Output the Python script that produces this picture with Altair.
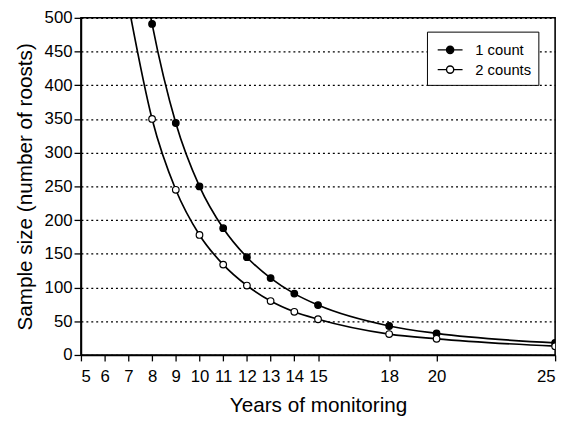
import altair as alt
import pandas as pd

# ---- data ----
years = [8, 9, 10, 11, 12, 13, 14, 15, 18, 20, 25]
one_count = [491, 344, 250, 188, 145, 114, 91, 74, 43, 32, 18]
two_counts = [350, 245, 178, 134, 103, 80, 64, 53, 31, 24, 13]
# curves continue above the plot top (estimated, clipped off)
lead_year = [7]
lead_one = [700]
lead_two = [520]
series = ["1 count", "2 counts"]
x_ticks = [5, 6, 7, 8, 9, 10, 11, 12, 13, 14, 15, 18, 20, 25]
y_ticks = [0, 50, 100, 150, 200, 250, 300, 350, 400, 450, 500]

FONT = "Liberation Sans"

pts = pd.DataFrame({
    "year": years + years,
    "value": one_count + two_counts,
    "series": [series[0]] * len(years) + [series[1]] * len(years),
})
line_df = pd.DataFrame({
    "year": lead_year + years + lead_year + years,
    "value": lead_one + one_count + lead_two + two_counts,
    "series": [series[0]] * (len(years) + 1) + [series[1]] * (len(years) + 1),
})

xscale = alt.Scale(domain=[5, 25], nice=False, zero=False)
yscale = alt.Scale(domain=[0, 500], nice=False)

xaxis = alt.Axis(values=x_ticks, title="Years of monitoring", grid=False,
                 tickSize=6, labelPadding=8, titlePadding=10,
                 labelFontSize=17, titleFontSize=21, labelFlush=True,
                 labelOverlap=False, labelBound=False)
yaxis = alt.Axis(values=y_ticks, title="Sample size (number of roosts)",
                 grid=True, gridDash=[2, 3], gridColor="black", gridWidth=1.3,
                 tickSize=7, labelPadding=2, titlePadding=9,
                 labelFontSize=17, titleFontSize=21, labelFlush=False,
                 labelOverlap=False, labelBound=False)

X = alt.X("year:Q", scale=xscale, axis=xaxis)
Y = alt.Y("value:Q", scale=yscale, axis=yaxis)

lines = alt.Chart(line_df).mark_line(
    color="black", strokeWidth=1.7, interpolate="monotone", clip=True
).encode(x=X, y=Y, detail="series:N")

legend_symbol = ("M-1.2,0L-0.35,0M1.2,0L0.35,0"
                 "M0.35,0A0.35,0.35 0 1,1 -0.35,0A0.35,0.35 0 1,1 0.35,0Z")

points = alt.Chart(pts).mark_point(
    shape="circle", filled=True, size=45, stroke="black", strokeWidth=1.2,
    opacity=1, clip=True
).encode(
    x=X, y=Y,
    fill=alt.Fill("series:N",
                  scale=alt.Scale(domain=series, range=["black", "white"]),
                  legend=alt.Legend(
                      title=None, orient="none", legendX=351, legendY=14,
                      fillColor="white", strokeColor="black",
                      padding=7, symbolOffset=5, rowPadding=0,
                      symbolType=legend_symbol, symbolSize=441,
                      symbolStrokeColor="black", symbolStrokeWidth=1.4,
                      labelFontSize=15, labelOffset=14, labelColor="black",
                      labelFont=FONT)),
)

chart = alt.layer(lines, points).properties(
    width=481, height=342,
    autosize=alt.AutoSizeParams(type="none"),
    padding={"left": 74, "top": 7, "right": 8, "bottom": 64},
).configure(font=FONT).configure_view(
    stroke="black", strokeWidth=1.6
).configure_axis(
    domainColor="black", domainWidth=1.6, tickColor="black", tickWidth=1.3,
    labelColor="black", titleColor="black", labelFont=FONT, titleFont=FONT,
    titleFontWeight="normal"
)

chart.save("out.html", embed_options={"renderer": "svg", "actions": False})
